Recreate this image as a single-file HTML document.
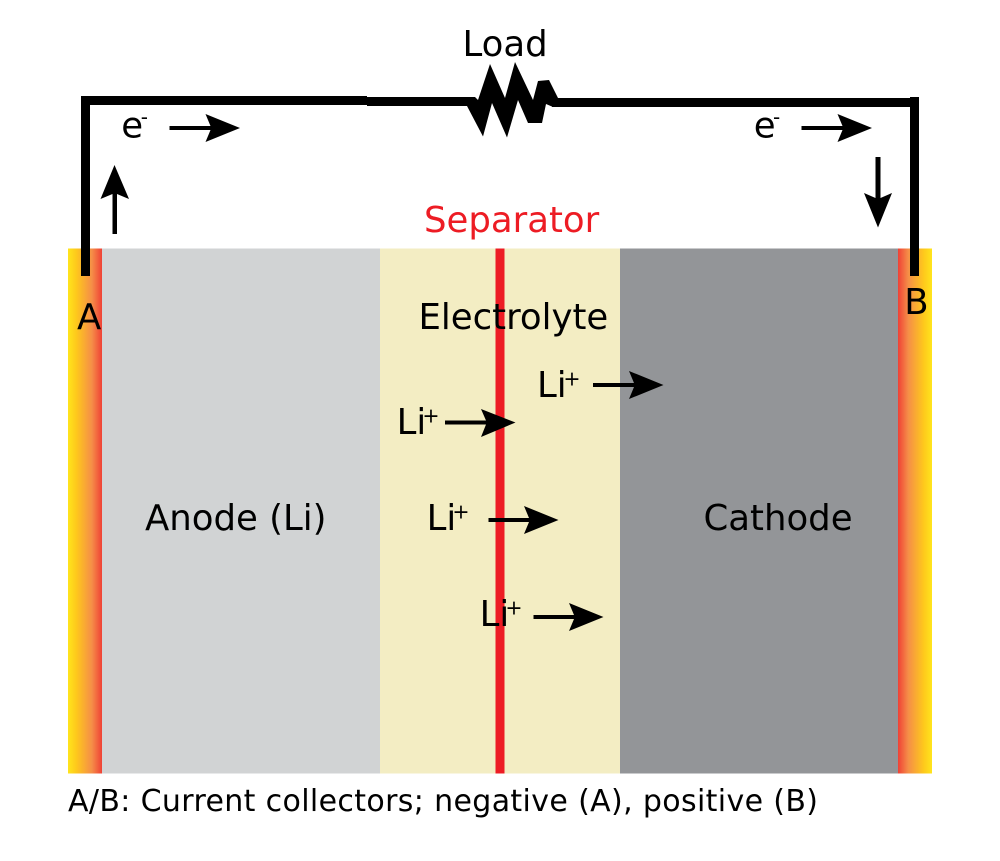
<!DOCTYPE html>
<html>
<head>
<meta charset="utf-8">
<style>
html,body{margin:0;padding:0;background:#fff}
svg{display:block}
text{font-family:"DejaVu Sans",sans-serif;fill:#000}
</style>
</head>
<body>
<svg width="1000" height="861" viewBox="0 0 1000 861" xmlns="http://www.w3.org/2000/svg">
<defs>
<linearGradient id="gl" x1="0" x2="1" y1="0" y2="0">
<stop offset="0" stop-color="#ffe51c"/><stop offset="0.25" stop-color="#fec81c"/><stop offset="0.7" stop-color="#f58e48"/><stop offset="1" stop-color="#ef4136"/>
</linearGradient>
<linearGradient id="gr" x1="1" x2="0" y1="0" y2="0">
<stop offset="0" stop-color="#ffe51c"/><stop offset="0.25" stop-color="#fec81c"/><stop offset="0.7" stop-color="#f58e48"/><stop offset="1" stop-color="#ef4136"/>
</linearGradient>
</defs>
<rect x="68" y="248.500" width="34" height="525" fill="url(#gl)"/>
<rect x="102" y="248.500" width="278" height="525" fill="#d1d3d4"/>
<rect x="380" y="248.500" width="240" height="525" fill="#f3edc3"/>
<rect x="620" y="248.500" width="278" height="525" fill="#939598"/>
<rect x="898" y="248.500" width="34" height="525" fill="url(#gr)"/>
<rect x="495.500" y="248.500" width="9" height="525" fill="#ed1c24"/>

<!-- wires -->
<rect x="81" y="96" width="9" height="180" fill="#000"/>
<rect x="81" y="96" width="286" height="9" fill="#000"/>
<rect x="367" y="97" width="105" height="9" fill="#000"/>
<rect x="910" y="97" width="9" height="179" fill="#000"/>
<rect x="552" y="98" width="367" height="9" fill="#000"/>
<!-- resistor -->
<polygon fill="#000" points="470,97 475,97 478,100 490,64 505,98 515,62 533,100 538,81 549,80 558,98 553,107 546,104 542,123 528,123 518,100 507,137.500 492,103 483,136.500 467,106"/>

<!-- arrows -->
<g fill="#000">
<path d="M169.500,126H210.500L205.500,114L240,128L205.500,142L210.500,130H169.500Z"/>
<path d="M801.500,126H842.500L837.500,114L872,128L837.500,142L842.500,130H801.500Z"/>
<path d="M112.500,234V194L100.500,199L114.500,165L129,199L117,194V234Z"/>
<path d="M875.500,157V198L864,193L878,227.500L892,193L880.500,198V157Z"/>
<path d="M445,420.500H486L481,409L515.500,422.500L481,437L486,424.500H445Z"/>
<path d="M593,383H634L629,371L663.500,385L629,399L634,387H593Z"/>
<path d="M488.500,518H529L524,506L558.500,520L524,534L529,522H488.500Z"/>
<path d="M533.500,615H574L569,603L603.500,617L569,631L574,619H533.500Z"/>
</g>

<!-- labels -->
<text x="462.500" y="56" font-size="35.500">Load</text>
<text x="424" y="232" font-size="35.500" style="fill:#ed1c24">Separator</text>
<text x="121.300" y="137.500" font-size="35.500">e</text>
<text x="140.700" y="124" font-size="20">-</text>
<text x="753.700" y="137.500" font-size="35.500">e</text>
<text x="773" y="124" font-size="20">-</text>
<text x="77" y="329" font-size="35.500">A</text>
<text x="904.300" y="314" font-size="35.500">B</text>
<text x="418.500" y="329" font-size="35.500">Electrolyte</text>
<text x="145" y="530" font-size="35.500">Anode (Li)</text>
<text x="703.500" y="530" font-size="35.500">Cathode</text>

<text x="537" y="397" font-size="35.500">Li</text>
<text x="563.400" y="385.400" font-size="20.500">+</text>
<text x="396.600" y="434" font-size="35.500">Li</text>
<text x="422.400" y="422.400" font-size="20.500">+</text>
<text x="426.600" y="530" font-size="35.500">Li</text>
<text x="452.400" y="518.400" font-size="20.500">+</text>
<text x="479.600" y="626" font-size="35.500">Li</text>
<text x="505.400" y="614.400" font-size="20.500">+</text>

<text x="68" y="811" font-size="30" textLength="750" lengthAdjust="spacing">A/B: Current collectors; negative (A), positive (B)</text>
</svg>
</body>
</html>
